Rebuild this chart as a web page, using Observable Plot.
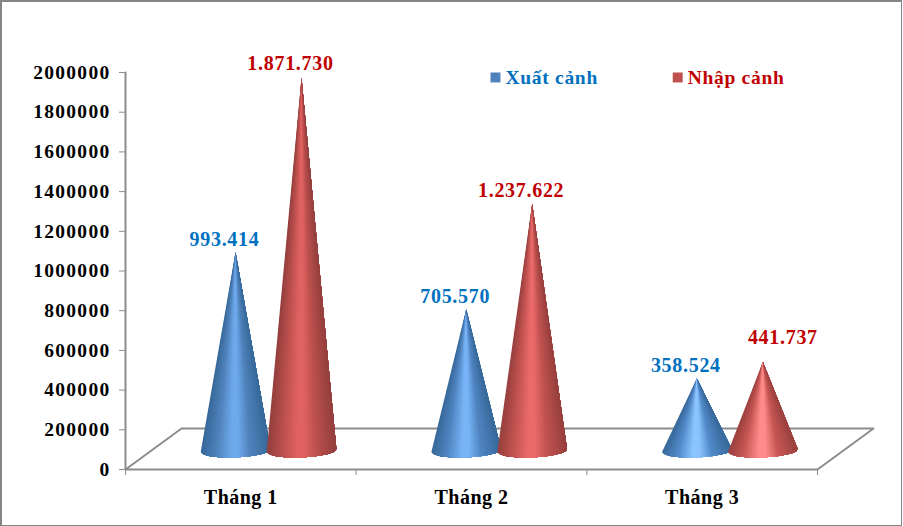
<!DOCTYPE html>
<html>
<head>
<meta charset="utf-8">
<script src="https://cdn.jsdelivr.net/npm/d3@7"></script>
<script src="https://cdn.jsdelivr.net/npm/@observablehq/plot@0.6"></script>
<style>
html,body{margin:0;padding:0;background:#fff}
#chart{position:relative;width:903px;height:526px;overflow:hidden}
#chart svg{position:absolute;left:0;top:0}
#chart::after{content:"";position:absolute;left:0;top:0;right:1px;bottom:0;border-style:solid;border-color:#868686;border-width:2px 1.5px 1.5px 2px;pointer-events:none}
#chart g[aria-label="y-axis tick label"] text{letter-spacing:1.3px}
#chart g[aria-label="x-axis tick label"] text{letter-spacing:.5px}
#chart g[aria-label="text"] text{letter-spacing:.7px}
</style>
</head>
<body>
<div id="chart"></div>
<script>
const categories = ["Tháng 1", "Tháng 2", "Tháng 3"];
const seriesNames = ["Xuất cảnh", "Nhập cảnh"];
const xuatCanh = [993414, 705570, 358524];
const nhapCanh = [1871730, 1237622, 441737];
const xuatLabels = ["993.414", "705.570", "358.524"];
const nhapLabels = ["1.871.730", "1.237.622", "441.737"];
const yTicks = [0,200000,400000,600000,800000,1000000,1200000,1400000,1600000,1800000,2000000];

const blue = "#0070c0", red = "#c00000", grey = "#8c8c8c";
const font = "'Liberation Serif','Times New Roman',serif";

// 3-D projection of the chart, in scale units
const floorDx = 0.243, floorDy = 206500;   // full depth of the floor
const coneDepth = 100000;                  // tips sit mid-depth
const baseY = 95700, baseRy = 35000, baseTilt = 7000, halfW = 0.151;
const seriesOffset = [0.477, 0.763];

// shading: [edge, mid, highlight] of each cone, per series & category
const shades = [
  [["#376899","#4f82bb","#6ea9ec"],["#376899","#5085c2","#78b4f6"],["#376899","#538aca","#8cc4ff"]],
  [["#933f3d","#bb504e","#e06262"],["#963f3d","#c15351","#ea6a6a"],["#9a413f","#c85755","#ff8c8c"]]
];

function shade(s, c, t) { // t: 0 left .. 1 right
  const [e, m, h] = shades[s][c];
  const stops = d3.scaleLinear()
    .domain([0, 0.22, 0.44, 0.54, 0.72, 1])
    .range([e, m, h, h, m, e])
    .interpolate(d3.interpolateRgb);
  return stops(t);
}

const N = 48;
const slices = [];
[xuatCanh, nhapCanh].forEach((vals, s) => vals.forEach((v, c) => {
  const cx = c + seriesOffset[s];
  const tipY = v + coneDepth;
  const rim = t => {
    const u = 2 * t - 1;
    return {x: cx + halfW * u, y: baseY - baseRy * Math.sqrt(Math.max(0, 1 - u * u)) + baseTilt * u};
  };
  for (let i = 0; i < N; i++) {
    const fill = shade(s, c, (i + 0.5) / N);
    const id = `${s}-${c}-${String(i).padStart(2, "0")}`;
    // each slice reaches over the whole rest of the cone; the next one paints over it, so no seams show
    slices.push({id, fill, x: cx, y: tipY});
    for (let j = i; j <= N; j++) {
      const p = rim(j / N);
      slices.push({id, fill, x: p.x, y: p.y});
    }
  }
}));

const floor = [
  {x: 0, y: 0}, {x: floorDx, y: floorDy}, {x: 3 + floorDx, y: floorDy}, {x: 3, y: 0}, {x: 0, y: 0}
];
const wall = [{x: 0, y: 0}, {x: 0, y: 2000000}];

const labelRows = (vals, labs, s) => vals.map((v, c) => ({
  x: c + seriesOffset[s], y: v + coneDepth, label: labs[c]
}));
const blueRows = labelRows(xuatCanh, xuatLabels, 0);
const redRows = labelRows(nhapCanh, nhapLabels, 1);

const legendX = [1.604, 2.394];
const legendY = 1975000;

const plot = Plot.plot({
  width: 903, height: 526,
  marginLeft: 125, marginRight: 86, marginTop: 72, marginBottom: 57,
  style: {background: "#fff", fontFamily: font},
  x: {domain: [0, 3], axis: null},
  y: {domain: [0, 2000000], axis: null},
  color: {type: "identity"},
  marks: [
    Plot.line(floor, {x: "x", y: "y", stroke: grey, strokeWidth: 2}),
    Plot.line(wall, {x: "x", y: "y", stroke: grey, strokeWidth: 2}),
    Plot.axisY({
      ticks: yTicks, tickSize: 6, tickPadding: 9, stroke: grey, fill: "#000",
      tickFormat: d => String(d), label: null,
      fontSize: 19.5, fontWeight: "bold", fontFamily: font
    }),
    Plot.axisX({ticks: [0, 1, 2, 3], tickSize: 6, stroke: grey, tickFormat: () => "", label: null}),
    Plot.axisX({
      ticks: [0.5, 1.5, 2.5], tickSize: 0, tickPadding: 20, fill: "#000", label: null,
      tickFormat: d => categories[Math.floor(d)],
      fontSize: 20, fontWeight: "bold", fontFamily: font
    }),
    Plot.line(slices.filter(d => d.id[0] === "0"), {x: "x", y: "y", z: "id", fill: "fill", stroke: "none", sort: null}),
    Plot.line(slices.filter(d => d.id[0] === "1"), {x: "x", y: "y", z: "id", fill: "fill", stroke: "none", sort: null}),
    Plot.text(blueRows, {x: "x", y: "y", text: "label", dx: -11, dy: -13, fill: blue, fontSize: 20, fontWeight: "bold", fontFamily: font}),
    Plot.text(redRows.slice(0, 1), {x: "x", y: "y", text: "label", dx: -11, dy: -15, fill: red, fontSize: 20, fontWeight: "bold", fontFamily: font}),
    Plot.text(redRows.slice(1, 2), {x: "x", y: "y", text: "label", dx: -11, dy: -13, fill: red, fontSize: 20, fontWeight: "bold", fontFamily: font}),
    Plot.text(redRows.slice(2), {x: "x", y: "y", text: "label", dx: 20, dy: -24, fill: red, fontSize: 20, fontWeight: "bold", fontFamily: font}),
    Plot.dot(seriesNames, {x: (d, i) => legendX[i], y: () => legendY, symbol: "square", r: 5.6, fill: (d, i) => ["#4f81bd", "#c0504d"][i], stroke: "none"}),
    Plot.text(seriesNames, {x: (d, i) => legendX[i], y: () => legendY, text: d => d, dx: 10, textAnchor: "start", fill: (d, i) => [blue, red][i], fontSize: 19.5, fontWeight: "bold", fontFamily: font})
  ]
});
document.getElementById("chart").append(plot);
</script>
</body>
</html>
